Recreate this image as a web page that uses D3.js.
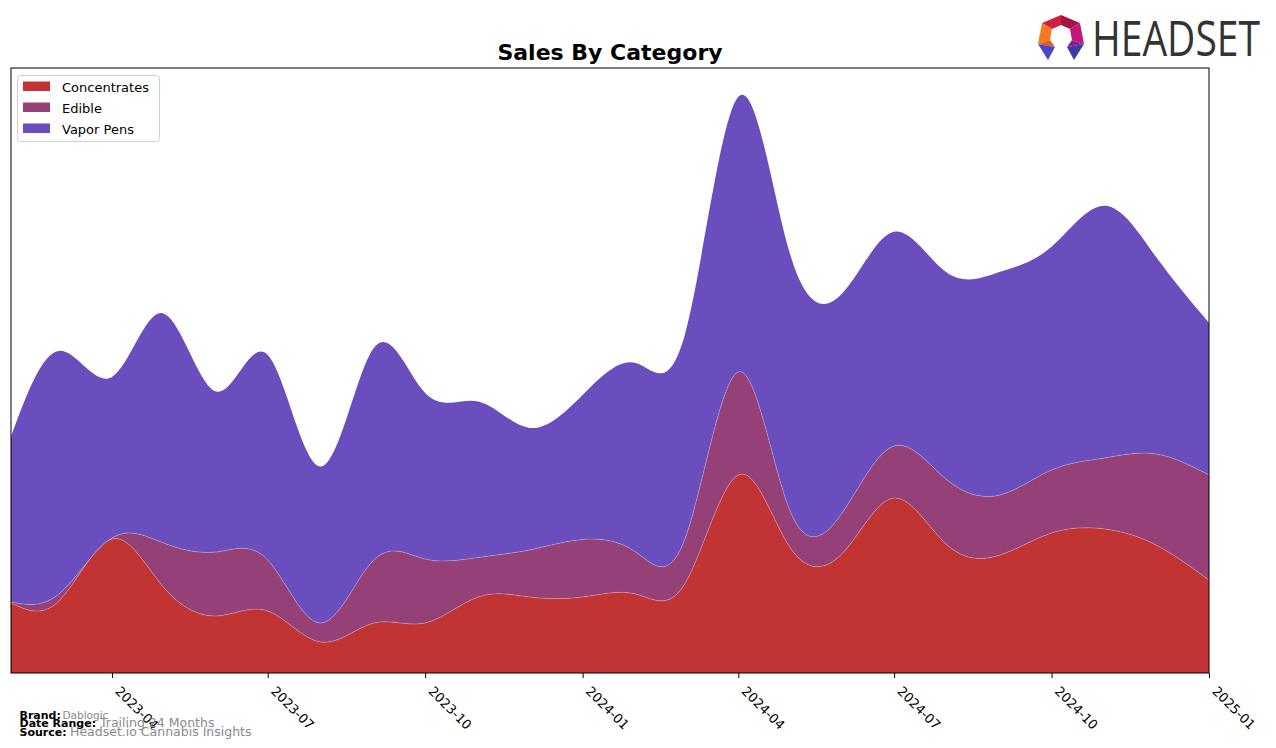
<!DOCTYPE html>
<html>
<head>
<meta charset="utf-8">
<script src="https://cdn.jsdelivr.net/npm/d3@7"></script>
<style>
  html, body { margin: 0; padding: 0; background: #fff; }
  svg { display: block; font-family: "DejaVu Sans", sans-serif; }
</style>
</head>
<body>
<svg id="chart" width="1276" height="748"></svg>
<script>
// ---- Data (monthly sales) ----
const months = ["2023-02","2023-03","2023-04","2023-05","2023-06","2023-07","2023-08","2023-09","2023-10","2023-11","2023-12","2024-01",
                "2024-02","2024-03","2024-04","2024-05","2024-06","2024-07","2024-08","2024-09","2024-10","2024-11","2024-12","2025-01"];
const concentrates = [7000, 7200, 13400, 8600, 5700, 6200, 3100, 5000, 5000, 7600, 7600, 7600,
                      7900, 9000, 19800, 12600, 12000, 17500, 12800, 11800, 14000, 14400, 12800, 9300];
const edible = [100, 700, 100, 4400, 6400, 5100, 1900, 6300, 6400, 3950, 4700, 5750,
                4200, 4500, 10300, 3700, 4100, 5200, 6500, 6000, 6300, 7100, 9100, 10500];
const vaporPens = [16550, 24300, 16100, 22950, 16050, 20500, 15650, 21200, 16600, 15600, 12200, 14450,
                   18900, 20500, 27500, 25700, 21900, 21400, 20700, 22300, 22300, 25200, 19700, 15200];
const categories = ["Concentrates", "Edible", "Vapor Pens"];
const colors = ["#c13433", "#954177", "#6a4ebd"];
const tickLabels = ["2023-04","2023-07","2023-10","2024-01","2024-04","2024-07","2024-10","2025-01"];

const parse = d3.timeParse("%Y-%m");
const rows = months.map((m, i) => ({
  date: parse(m),
  "Concentrates": concentrates[i],
  "Edible": edible[i],
  "Vapor Pens": vaporPens[i]
}));

const svg = d3.select("#chart");
const L = 11, R = 1209, T = 68, B = 673;

const x = d3.scaleTime()
  .domain(d3.extent(rows, d => d.date))
  .range([L, R]);

const stacked = d3.stack().keys(categories)(rows);
const maxTotal = d3.max(stacked[stacked.length - 1], d => d[1]);
const y = d3.scaleLinear().domain([0, maxTotal * 1.05]).range([B, T]);

svg.append("defs").append("clipPath").attr("id", "clip")
  .append("rect").attr("x", L).attr("y", T).attr("width", R - L).attr("height", B - T);

const area = d3.area()
  .x(d => x(d.data.date))
  .y0(d => y(d[0]))
  .y1(d => y(d[1]))
  .curve(d3.curveNatural);

const g = svg.append("g").attr("clip-path", "url(#clip)");
g.selectAll("path.layer")
  .data(stacked)
  .join("path")
  .attr("class", "layer")
  .attr("fill", (d, i) => colors[i])
  .attr("d", area);

// faint light boundary lines
const line = d3.line()
  .x(d => x(d.data.date))
  .y(d => y(d[1]))
  .curve(d3.curveNatural);
g.selectAll("path.edge")
  .data(stacked.slice(0, 2))
  .join("path")
  .attr("class", "edge")
  .attr("fill", "none")
  .attr("stroke", "rgba(255,255,255,0.3)")
  .attr("stroke-width", 0.8)
  .attr("d", line);

// frame
svg.append("rect")
  .attr("x", L).attr("y", T).attr("width", R - L).attr("height", B - T)
  .attr("fill", "none").attr("stroke", "#000").attr("stroke-width", 1);

// x axis
const tickDates = tickLabels.map(parse);
const xAxis = d3.axisBottom(x)
  .tickValues(tickDates)
  .tickFormat(d3.timeFormat("%Y-%m"))
  .tickSize(5)
  .tickPadding(3);
const ax = svg.append("g").attr("transform", `translate(0,${B})`).call(xAxis);
ax.select(".domain").remove();
ax.selectAll(".tick line").attr("stroke", "#000");
ax.selectAll(".tick text")
  .attr("fill", "#000")
  .style("font-size", "13px")
  .style("font-family", "DejaVu Sans, sans-serif")
  .attr("text-anchor", "start")
  .attr("dy", null)
  .attr("y", 0)
  .attr("transform", "translate(2,19) rotate(45)");

// title
svg.append("text")
  .attr("x", (L + R) / 2).attr("y", 60)
  .attr("text-anchor", "middle")
  .style("font-size", "22px").style("font-weight", "bold")
  .text("Sales By Category");

// legend
const lg = svg.append("g");
lg.append("rect")
  .attr("x", 17.5).attr("y", 75.5).attr("width", 142).attr("height", 66)
  .attr("rx", 3).attr("fill", "#fff").attr("fill-opacity", 0.8)
  .attr("stroke", "#d0d0d0");
categories.forEach((c, i) => {
  const cy = 86 + i * 21;
  lg.append("rect").attr("x", 23).attr("y", cy - 4.5).attr("width", 27).attr("height", 9.5).attr("fill", colors[i]);
  lg.append("text").attr("x", 62).attr("y", cy + 6).style("font-size", "13px").text(c);
});

// footer
const foot = [
  {label: "Brand:", value: "Dablogic", y: 718.5, vx: 62.5, vs: "10.5px"},
  {label: "Date Range:", value: "Trailing 24 Months", y: 726.5, vx: 100, vs: "12.5px"},
  {label: "Source:", value: "Headset.io Cannabis Insights", y: 735.5, vx: 70, vs: "12.5px"}
];
foot.forEach(f => {
  svg.append("text").attr("x", 19.5).attr("y", f.y).style("font-size", "11px").style("font-weight", "bold").text(f.label);
  svg.append("text").attr("x", f.vx).attr("y", f.y).style("font-size", f.vs).attr("fill", "#8a8a8a").text(f.value);
});

// logo
const logo = svg.append("g");
const P = {p0:[1061,15], p1:[1080,23], p2:[1084,44], p3:[1074,60], p4:[1048,60], p5:[1038,44], p6:[1042,23]};
const I = {i0:[1061,25], i1:[1070,29], i2:[1072,40], i3:[1067,47], i4:[1055,47], i5:[1050,40], i6:[1052,29]};
const facets = [
  {pts:[P.p6,P.p0,I.i0,I.i6], c:"#d21f3c"},
  {pts:[P.p0,P.p1,I.i1,I.i0], c:"#a31548"},
  {pts:[P.p1,P.p2,I.i2,I.i1], c:"#c4177a"},
  {pts:[P.p6,I.i6,I.i5,P.p5], c:"#f47c20"},
  {pts:[P.p5,I.i5,I.i4], c:"#e9591f"},
  {pts:[P.p2,I.i2,I.i3], c:"#8e1f8a"},
  {pts:[P.p5,I.i4,P.p4], c:"#4a45c8"},
  {pts:[P.p2,P.p3,I.i3], c:"#3a3aa8"}
];
facets.forEach(f => {
  logo.append("polygon").attr("points", f.pts.map(p => p.join(",")).join(" ")).attr("fill", f.c);
});
logo.append("text")
  .attr("x", 1092).attr("y", 56)
  .attr("textLength", 168).attr("lengthAdjust", "spacingAndGlyphs")
  .style("font-family", "'Open Sans', sans-serif")
  .style("font-size", "50px")
  .attr("fill", "#333")
  .text("HEADSET");
</script>
</body>
</html>
